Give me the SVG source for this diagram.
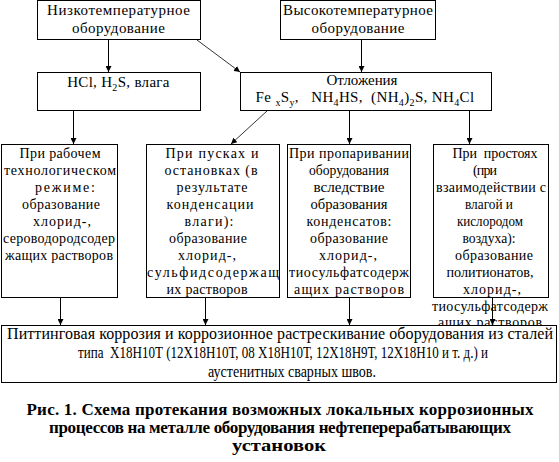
<svg xmlns="http://www.w3.org/2000/svg" width="559" height="462" viewBox="0 0 559 462">
<style>
.box{fill:#fff;stroke:#000;stroke-width:1}
.t{font-family:"Liberation Serif","Times New Roman",serif;font-size:14px;fill:#000;text-anchor:middle}
.t15{font-size:15px}
.t16{font-size:16px}
.cap{font-family:"Liberation Serif","Times New Roman",serif;font-size:17px;font-weight:bold;fill:#000;text-anchor:middle}
.c{stroke:#000;stroke-width:1;fill:none}
.d{stroke:#000;stroke-width:0.8;fill:none}
</style>
<defs>
<marker id="ah" markerWidth="6" markerHeight="6" refX="6" refY="3" orient="auto" markerUnits="userSpaceOnUse">
<path d="M0,0 L6,3 L0,6 z" fill="#000"/>
</marker>
</defs>
<rect width="559" height="462" fill="#fff"/>
<g id="n-low">
<rect class="box" x="37.5" y="0.5" width="163" height="39"/>
<text class="t t15" x="118.5" y="15" textLength="143" lengthAdjust="spacing">Низкотемпературное</text>
<text class="t t15" x="118.5" y="33" textLength="93" lengthAdjust="spacing">оборудование</text>
</g>
<g id="n-high">
<rect class="box" x="280.5" y="0.5" width="155" height="39"/>
<text class="t t15" x="358" y="15" textLength="150" lengthAdjust="spacing">Высокотемпературное</text>
<text class="t t15" x="358" y="33" textLength="93" lengthAdjust="spacing">оборудование</text>
</g>
<g id="n-hcl">
<rect class="box" x="37.5" y="72.5" width="163" height="38"/>
<text class="t t15" x="118.5" y="87" letter-spacing="0.3">HCl, H<tspan font-size="10" dy="4">2</tspan><tspan dy="-4">S, влага</tspan></text>
</g>
<g id="n-dep">
<rect class="box" x="240.5" y="72.5" width="251" height="38"/>
<text class="t t15" x="362" y="85" textLength="71" lengthAdjust="spacing">Отложения</text>
<text class="t t15" x="365" y="102" letter-spacing="0.35" xml:space="preserve">Fe <tspan font-size="10" dy="4">x</tspan><tspan dy="-4">S</tspan><tspan font-size="10" dy="4">y</tspan><tspan dy="-4">,   NH</tspan><tspan font-size="10" dy="4">4</tspan><tspan dy="-4">HS,  (NH</tspan><tspan font-size="10" dy="4">4</tspan><tspan dy="-4">)</tspan><tspan font-size="10" dy="4">2</tspan><tspan dy="-4">S, NH</tspan><tspan font-size="10" dy="4">4</tspan><tspan dy="-4">Cl</tspan></text>
</g>
<g id="n-work">
<rect class="box" x="1.5" y="144.5" width="116" height="153"/>
<text class="t" x="60" y="158" textLength="81" lengthAdjust="spacing">При рабочем</text>
<text class="t" x="60" y="175" textLength="112" lengthAdjust="spacing">технологическом</text>
<text class="t" x="65" y="192" textLength="60" lengthAdjust="spacing">режиме:</text>
<text class="t" x="61" y="209" textLength="78" lengthAdjust="spacing">образование</text>
<text class="t" x="62" y="226" textLength="58" lengthAdjust="spacing">хлорид-,</text>
<text class="t" x="59" y="243" textLength="112" lengthAdjust="spacing">сероводородсодер</text>
<text class="t" x="59" y="260" textLength="108" lengthAdjust="spacing">жащих растворов</text>
</g>
<g id="n-start">
<rect class="box" x="146.5" y="144.5" width="133" height="153"/>
<text class="t" x="212" y="158" textLength="93" lengthAdjust="spacing">При пусках и</text>
<text class="t" x="211" y="175" textLength="93" lengthAdjust="spacing">остановках (в</text>
<text class="t" x="212" y="192" textLength="71" lengthAdjust="spacing">результате</text>
<text class="t" x="210" y="209" textLength="87" lengthAdjust="spacing">конденсации</text>
<text class="t" x="209" y="226" textLength="49" lengthAdjust="spacing">влаги):</text>
<text class="t" x="208" y="243" textLength="78" lengthAdjust="spacing">образование</text>
<text class="t" x="207" y="260" textLength="58" lengthAdjust="spacing">хлорид-,</text>
<text class="t" x="213" y="277" textLength="132" lengthAdjust="spacing">сульфидсодержащ</text>
<text class="t" x="207" y="294" textLength="81" lengthAdjust="spacing">их растворов</text>
</g>
<g id="n-steam">
<rect class="box" x="287.5" y="144.5" width="123" height="153"/>
<text class="t" x="349" y="158" textLength="120" lengthAdjust="spacing">При пропаривании</text>
<text class="t" x="349" y="175" textLength="80" lengthAdjust="spacingAndGlyphs">оборудования</text>
<text class="t" x="349" y="192" textLength="71" lengthAdjust="spacingAndGlyphs">вследствие</text>
<text class="t" x="349" y="209" textLength="77" lengthAdjust="spacingAndGlyphs">образования</text>
<text class="t" x="349" y="226" textLength="85" lengthAdjust="spacing">конденсатов:</text>
<text class="t" x="349" y="243" textLength="78" lengthAdjust="spacing">образование</text>
<text class="t" x="348" y="260" textLength="58" lengthAdjust="spacing">хлорид-,</text>
<text class="t" x="349" y="277" textLength="120" lengthAdjust="spacing">тиосульфатсодерж</text>
<text class="t" x="349" y="294" textLength="110" lengthAdjust="spacing">ащих растворов</text>
</g>
<g id="n-idle">
<rect class="box" x="433.5" y="144.5" width="115" height="153"/>
<text class="t" x="495" y="158" textLength="85" lengthAdjust="spacing" xml:space="preserve">При  простоях</text>
<text class="t" x="485" y="175" textLength="24" lengthAdjust="spacing">(при</text>
<text class="t" x="491" y="192" textLength="110" lengthAdjust="spacing">взаимодействии с</text>
<text class="t" x="489" y="209" textLength="48" lengthAdjust="spacingAndGlyphs">влагой и</text>
<text class="t" x="490" y="226" textLength="66" lengthAdjust="spacingAndGlyphs">кислородом</text>
<text class="t" x="489" y="243" textLength="53" lengthAdjust="spacingAndGlyphs">воздуха):</text>
<text class="t" x="494" y="260" textLength="78" lengthAdjust="spacing">образование</text>
<text class="t" x="490" y="277" textLength="87" lengthAdjust="spacingAndGlyphs">политионатов,</text>
<text class="t" x="492" y="294" textLength="58" lengthAdjust="spacing">хлорид-,</text>
<text class="t" x="490" y="311" textLength="116" lengthAdjust="spacing">тиосульфатсодерж</text>
<text class="t" x="490" y="327" textLength="104" lengthAdjust="spacing">ащих растворов</text>
</g>
<g id="n-result">
<rect class="box" x="1.5" y="325.5" width="555" height="57"/>
<text class="t t16" x="280" y="339" textLength="546" lengthAdjust="spacing">Питтинговая коррозия и коррозионное растрескивание оборудования из сталей</text>
<text class="t t16" x="283" y="358" textLength="410" lengthAdjust="spacingAndGlyphs" xml:space="preserve">типа  Х18Н10Т (12Х18Н10Т, 08 Х18Н10Т, 12Х18Н9Т, 12Х18Н10 и т. д.) и</text>
<text class="t t16" x="292" y="377" textLength="168" lengthAdjust="spacingAndGlyphs">аустенитных сварных швов.</text>
</g>
<g id="caption">
<text class="cap" x="280" y="415" textLength="507" lengthAdjust="spacing">Рис. 1. Схема протекания возможных локальных коррозионных</text>
<text class="cap" x="280" y="433" textLength="462" lengthAdjust="spacing">процессов на металле оборудования нефтеперерабатывающих</text>
<text class="cap" x="279" y="451" textLength="94" lengthAdjust="spacingAndGlyphs">установок</text>
</g>
<g id="connectors">
<line class="c" x1="108.5" y1="40" x2="108.5" y2="72" marker-end="url(#ah)"/>
<line class="d" x1="197" y1="40" x2="240" y2="72" marker-end="url(#ah)"/>
<line class="c" x1="361.5" y1="40" x2="361.5" y2="72" marker-end="url(#ah)"/>
<line class="c" x1="73.5" y1="111" x2="73.5" y2="144" marker-end="url(#ah)"/>
<line class="d" x1="267" y1="111" x2="231" y2="144" marker-end="url(#ah)"/>
<line class="c" x1="349.5" y1="111" x2="349.5" y2="144" marker-end="url(#ah)"/>
<line class="c" x1="469.5" y1="111" x2="469.5" y2="144" marker-end="url(#ah)"/>
<line class="c" x1="60.5" y1="298" x2="60.5" y2="325" marker-end="url(#ah)"/>
<line class="c" x1="205.5" y1="298" x2="205.5" y2="325" marker-end="url(#ah)"/>
<line class="c" x1="349.5" y1="298" x2="349.5" y2="325" marker-end="url(#ah)"/>
<line class="c" x1="492.5" y1="298" x2="492.5" y2="325" marker-end="url(#ah)"/>
</g>
</svg>
